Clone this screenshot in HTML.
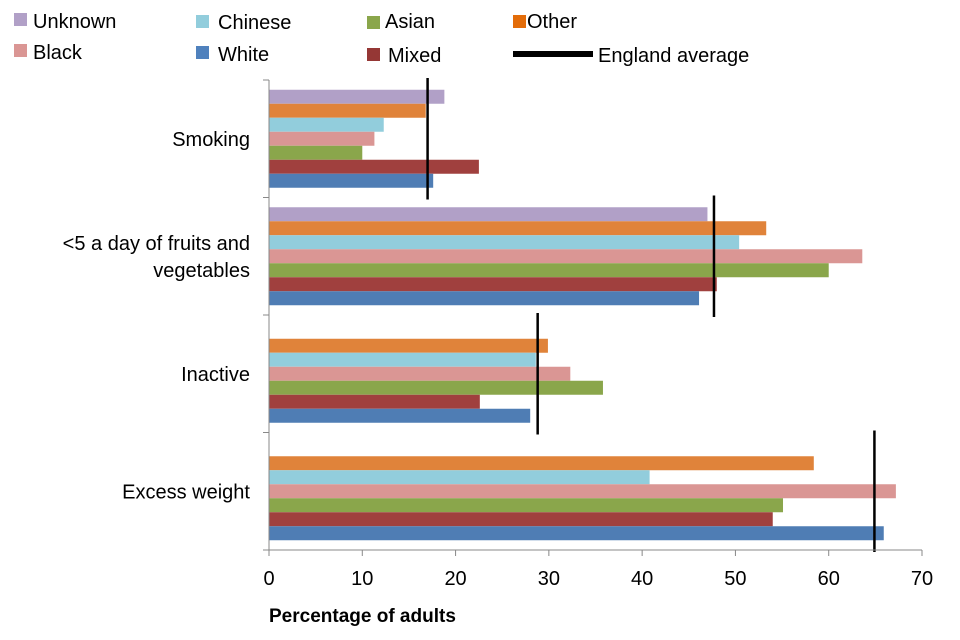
<!DOCTYPE html>
<html><head><meta charset="utf-8"><style>
html,body{margin:0;padding:0;background:#fff;width:960px;height:640px;overflow:hidden}
svg{display:block;font-family:"Liberation Sans",Arial,sans-serif}
</style></head><body>
<svg id="chart" width="960" height="640">
<g id="legend">
 <g><rect x="14" y="13" width="13" height="13" fill="#B1A0C7"/><text x="33" y="28" font-size="20">Unknown</text></g>
 <g><rect x="196" y="15" width="13" height="13" fill="#92CDDC"/><text x="218" y="29" font-size="20">Chinese</text></g>
 <g><rect x="367" y="16" width="13" height="13" fill="#8AA64B"/><text x="385" y="28" font-size="20">Asian</text></g>
 <g><rect x="513" y="15" width="13" height="13" fill="#E36C09"/><text x="527" y="28" font-size="20">Other</text></g>
 <g><rect x="14" y="44" width="13" height="13" fill="#DA9694"/><text x="33" y="59" font-size="20">Black</text></g>
 <g><rect x="196" y="46" width="13" height="13" fill="#4F81BD"/><text x="218" y="61" font-size="20">White</text></g>
 <g><rect x="367" y="48" width="13" height="13" fill="#953735"/><text x="388" y="62" font-size="20">Mixed</text></g>
 <g><rect x="513" y="51" width="80" height="6" fill="#000"/><text x="598" y="62" font-size="20">England average</text></g>
</g>
<g id="plot"></g>
<text x="269" y="622" font-size="19" font-weight="bold">Percentage of adults</text>
</svg>
<script>
const categories = ["Smoking", "<5 a day of fruits and|vegetables", "Inactive", "Excess weight"];
const seriesNames = ["Unknown", "Other", "Chinese", "Black", "Asian", "Mixed", "White"];
const seriesColors = ["#B1A0C7", "#E0833A", "#92CDDC", "#DA9694", "#8AA64B", "#A0403E", "#4F7DB4"];
const unknownVals = [18.8, 47.0, null, null];
const otherVals = [16.8, 53.3, 29.9, 58.4];
const chineseVals = [12.3, 50.4, 28.6, 40.8];
const blackVals = [11.3, 63.6, 32.3, 67.2];
const asianVals = [10.0, 60.0, 35.8, 55.1];
const mixedVals = [22.5, 48.0, 22.6, 54.0];
const whiteVals = [17.6, 46.1, 28.0, 65.9];
const englandAvg = [17.0, 47.7, 28.8, 64.9];
const xTicks = [0, 10, 20, 30, 40, 50, 60, 70];

const series = [unknownVals, otherVals, chineseVals, blackVals, asianVals, mixedVals, whiteVals];
const NS = "http://www.w3.org/2000/svg";
const plot = document.getElementById("plot");
const plotX0 = 269, plotX1 = 922, plotTop = 80, plotBottom = 550;
const xScale = v => plotX0 + (v / 70) * (plotX1 - plotX0);
const band = (plotBottom - plotTop) / categories.length;
const barH = 14, pad = (band - barH * series.length) / 2;
const bandTop = i => plotTop + i * band;
function mk(tag, attrs) { const e = document.createElementNS(NS, tag); for (const k in attrs) e.setAttribute(k, attrs[k]); plot.appendChild(e); return e; }

categories.forEach((c, ci) => {
  series.forEach((vals, si) => {
    const v = vals[ci];
    if (v == null) return;
    const r = mk("rect", { x: xScale(0), y: bandTop(ci) + pad + si * barH, width: xScale(v) - xScale(0), height: barH, fill: seriesColors[si] });
    
    
  });
  const l = mk("line", { x1: xScale(englandAvg[ci]), x2: xScale(englandAvg[ci]), y1: bandTop(ci) - 2, y2: bandTop(ci) + band + 2, stroke: "#000", "stroke-width": 2.5 });
  
  
  const lines = c.split("|");
  const cy = bandTop(ci) + band / 2;
  lines.forEach((t, li) => {
    const tx = mk("text", { x: 250, y: cy + 7 + (li - (lines.length - 1) / 2) * 27, "font-size": 20, "text-anchor": "end" });
    tx.textContent = t;
    
    
  });
});
const ya = mk("line", { x1: plotX0, x2: plotX0, y1: plotTop, y2: plotBottom, stroke: "#888", "stroke-width": 1 });
 
for (let i = 0; i <= categories.length; i++) {
  const t = mk("line", { x1: plotX0 - 6, x2: plotX0, y1: plotTop + i * band, y2: plotTop + i * band, stroke: "#888" });
   
}
const xa = mk("line", { x1: plotX0, x2: plotX1, y1: plotBottom, y2: plotBottom, stroke: "#888", "stroke-width": 1 });
 
xTicks.forEach(v => {
  const t = mk("line", { x1: xScale(v), x2: xScale(v), y1: plotBottom, y2: plotBottom + 6, stroke: "#888" });
   
  const tx = mk("text", { x: xScale(v), y: plotBottom + 35, "font-size": 20, "text-anchor": "middle" });
  tx.textContent = v;
   
});
</script>
</body></html>
